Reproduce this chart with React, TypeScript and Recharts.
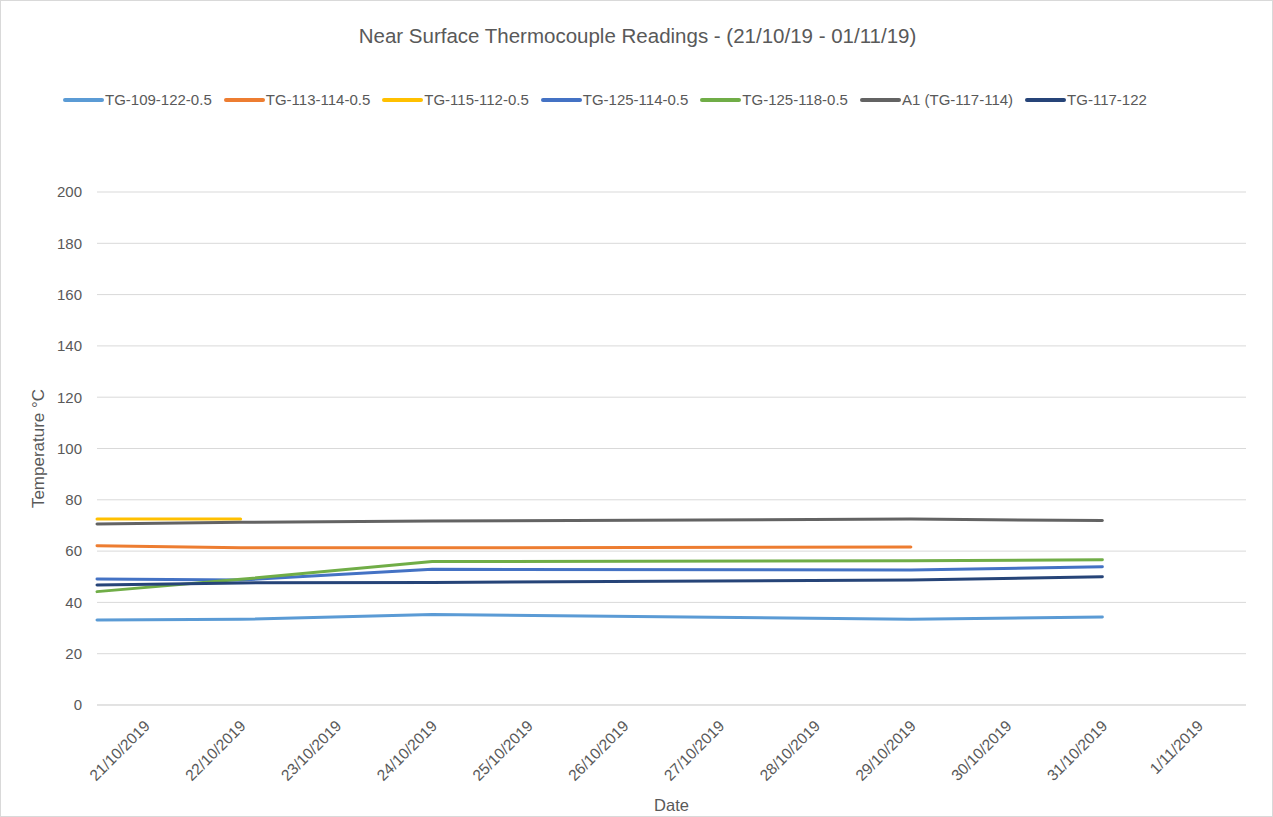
import { LineChart, Line, XAxis, YAxis, CartesianGrid, Label } from 'recharts';

const dayLabels = [
  '21/10/2019', '22/10/2019', '23/10/2019', '24/10/2019', '25/10/2019', '26/10/2019',
  '27/10/2019', '28/10/2019', '29/10/2019', '30/10/2019', '31/10/2019', '1/11/2019',
];
const dayTicks = [0, 1, 2, 3, 4, 5, 6, 7, 8, 9, 10, 11, 12];
const labelTicks = [0.5, 1.5, 2.5, 3.5, 4.5, 5.5, 6.5, 7.5, 8.5, 9.5, 10.5, 11.5];
const yTicks = [0, 20, 40, 60, 80, 100, 120, 140, 160, 180, 200];

// reading times, in days from 21/10/2019
const readingDays = [0, 1.5, 3.5, 8.5, 10.5];

const tg109 = [33.1, 33.4, 35.3, 33.4, 34.3];
const tg113 = [62.1, 61.3, 61.3, 61.6];
const tg115 = [72.5, 72.5];
const tg125_114 = [49.1, 48.7, 52.9, 52.6, 53.9];
const tg125_118 = [44.2, 49.0, 55.9, 56.2, 56.6];
const a1 = [70.6, 71.2, 71.7, 72.5, 71.9];
const tg117 = [46.8, 47.6, 47.8, 48.7, 50.0];

const series = [
  { key: 's1', name: 'TG-109-122-0.5', color: '#5B9BD5', values: tg109 },
  { key: 's2', name: 'TG-113-114-0.5', color: '#ED7D31', values: tg113 },
  { key: 's3', name: 'TG-115-112-0.5', color: '#FFC000', values: tg115 },
  { key: 's4', name: 'TG-125-114-0.5', color: '#4472C4', values: tg125_114 },
  { key: 's5', name: 'TG-125-118-0.5', color: '#70AD47', values: tg125_118 },
  { key: 's6', name: 'A1 (TG-117-114)', color: '#636363', values: a1 },
  { key: 's7', name: 'TG-117-122', color: '#264478', values: tg117 },
];

const rows = readingDays.map((d, i) => {
  const row: Record<string, number | undefined> = { day: d };
  series.forEach((s) => {
    row[s.key] = s.values[i];
  });
  return row;
});

const font = '"Liberation Sans", Arial, sans-serif';
const textColor = '#595959';

function DateTick({ x, y, payload }: any) {
  const label = dayLabels[Math.floor(payload.value)];
  return (
    <text
      x={x + 6}
      y={y + 17}
      transform={`rotate(-45, ${x + 6}, ${y + 17})`}
      textAnchor="end"
      fill={textColor}
      fontSize={15.5}
      fontFamily={font}
    >
      {label}
    </text>
  );
}

export default function App() {
  return (
    <div
      style={{
        position: 'fixed',
        left: 0,
        top: 0,
        width: 1273,
        height: 817,
        background: '#fff',
        border: '1px solid #D9D9D9',
        boxSizing: 'border-box',
        fontFamily: font,
      }}
    >
      <div
        style={{
          position: 'absolute',
          top: 23,
          left: 0,
          width: 1273,
          textAlign: 'center',
          fontSize: 20.5,
          color: textColor,
        }}
      >
        Near Surface Thermocouple Readings - (21/10/19 - 01/11/19)
      </div>
      <div
        style={{
          position: 'absolute',
          top: 90,
          left: 62,
          display: 'flex',
          fontSize: 15,
          color: textColor,
          whiteSpace: 'nowrap',
        }}
      >
        {series.map((s) => (
          <div key={s.key} style={{ display: 'flex', alignItems: 'center', marginRight: 12 }}>
            <span
              style={{
                display: 'inline-block',
                width: 41,
                height: 4,
                borderRadius: 2,
                background: s.color,
                marginRight: 1,
              }}
            />
            <span>{s.name}</span>
          </div>
        ))}
      </div>
      <div style={{ position: 'absolute', left: -1, top: -1 }}>
        <LineChart
          width={1273}
          height={817}
          data={rows}
          margin={{ top: 192, right: 27, bottom: 0, left: 0 }}
        >
          <CartesianGrid horizontal vertical={false} stroke="#D9D9D9" />
          <XAxis
            xAxisId="days"
            dataKey="day"
            type="number"
            domain={[0, 12]}
            ticks={dayTicks}
            tick={false}
            tickSize={5}
            height={5}
            stroke="#D9D9D9"
          />
          <XAxis
            xAxisId="labels"
            dataKey="day"
            type="number"
            domain={[0, 12]}
            ticks={labelTicks}
            axisLine={false}
            tickLine={false}
            tickSize={0}
            tickMargin={0}
            height={107}
            tick={<DateTick />}
          >
            <Label
              value="Date"
              position="insideBottom"
              offset={6}
              fill={textColor}
              fontSize={16.5}
              fontFamily={font}
            />
          </XAxis>
          <YAxis
            domain={[0, 200]}
            ticks={yTicks}
            axisLine={false}
            tickLine={false}
            tickSize={0}
            tickMargin={15}
            width={97}
            tick={{ fill: textColor, fontSize: 15, fontFamily: font }}
          >
            <Label
              value="Temperature °C"
              angle={-90}
              position="insideLeft"
              offset={38}
              textAnchor="middle"
              fill={textColor}
              fontSize={17}
              fontFamily={font}
            />
          </YAxis>
          {series.map((s) => (
            <Line
              key={s.key}
              xAxisId="days"
              dataKey={s.key}
              name={s.name}
              type="linear"
              stroke={s.color}
              strokeWidth={3}
              strokeLinecap="round"
              dot={false}
              activeDot={false}
              isAnimationActive={false}
            />
          ))}
        </LineChart>
      </div>
    </div>
  );
}
